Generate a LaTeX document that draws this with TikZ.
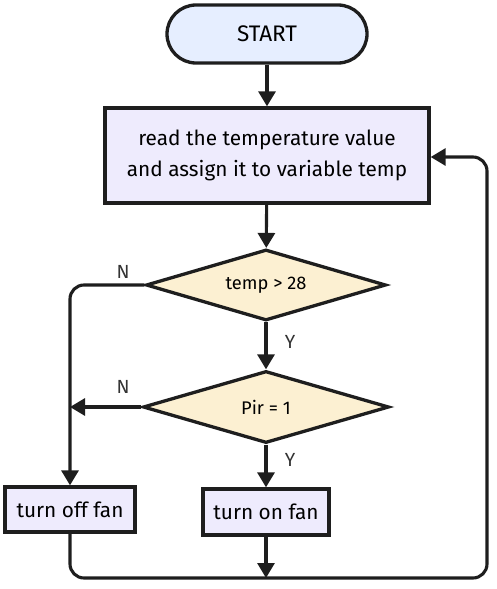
\documentclass[tikz,border=0pt]{standalone}
\usepackage{fontspec}
\setmainfont{Fira Sans}
\usetikzlibrary{shapes.geometric,arrows.meta}
\definecolor{lineC}{HTML}{1E1E1E}
\definecolor{startC}{HTML}{E6EEFF}
\definecolor{boxC}{HTML}{EEEBFD}
\definecolor{decC}{HTML}{FCF0D2}
\definecolor{labC}{HTML}{333333}
\tikzset{
  base/.style={draw=lineC, line width=3.3pt, text=black, align=center, inner sep=0pt},
  startbox/.style={base, fill=startC, rounded corners=29pt, minimum width=200pt, minimum height=58pt, font=\fontsize{22.5}{26}\selectfont},
  procbox/.style={base, fill=boxC, font=\fontsize{20.8}{30.5}\selectfont},
  decbox/.style={base, diamond, aspect=3.4, fill=decC, font=\fontsize{18.3}{20}\selectfont},
  conn/.style={draw=lineC, line width=3.1pt, -{Triangle[length=15pt,width=17pt]}},
  lab/.style={text=labC, font=\fontsize{19}{20}\selectfont, inner sep=0pt}
}
\begin{document}
\begin{tikzpicture}[x=1pt,y=-1pt]
\useasboundingbox (0,0) rectangle (496,589);
\node[startbox] (start) at (267,34) {START};
\node[procbox, minimum width=324pt, minimum height=95pt] (read) at (267,155.5) {read the temperature value\\and assign it to variable temp};
\node[decbox, minimum width=240pt, minimum height=71pt] (d1) at (266,285) {temp > 28};
\node[decbox, minimum width=246pt, minimum height=72pt] (d2) at (266,407) {Pir = 1};
\node[procbox, minimum width=130pt, minimum height=45pt] (off) at (70,509.5) {turn off fan};
\node[procbox, minimum width=126pt, minimum height=46pt] (on) at (266,512) {turn on fan};
\coordinate (corner1) at (70,285);
\coordinate (join2) at (70,407);
\coordinate (bl) at (70,578);
\coordinate (merge) at (266,578);
\coordinate (br) at (487,578);
\coordinate (tr) at (487,157);
\coordinate (readin) at (read.east |- tr);

\draw[conn] (start) -- (read);
\draw[conn] (read) -- (d1);
\draw[conn] (d1) -- (d2);
\draw[conn] (d2) -- (on);
\draw[conn, rounded corners=14pt] (d1.west) -- (corner1) -- (off.north);
\draw[conn] (d2.west) -- (join2);
\draw[conn, rounded corners=14pt] (off.south) -- (bl) -- (br) -- (tr) -- (readin);
\draw[conn] (on) -- (merge);

\node[lab] (n1) at (123,272) {N};
\node[lab] (n2) at (123,387) {N};
\node[lab] (y1) at (290,342) {Y};
\node[lab] (y2) at (290,460) {Y};
\end{tikzpicture}
\end{document}
